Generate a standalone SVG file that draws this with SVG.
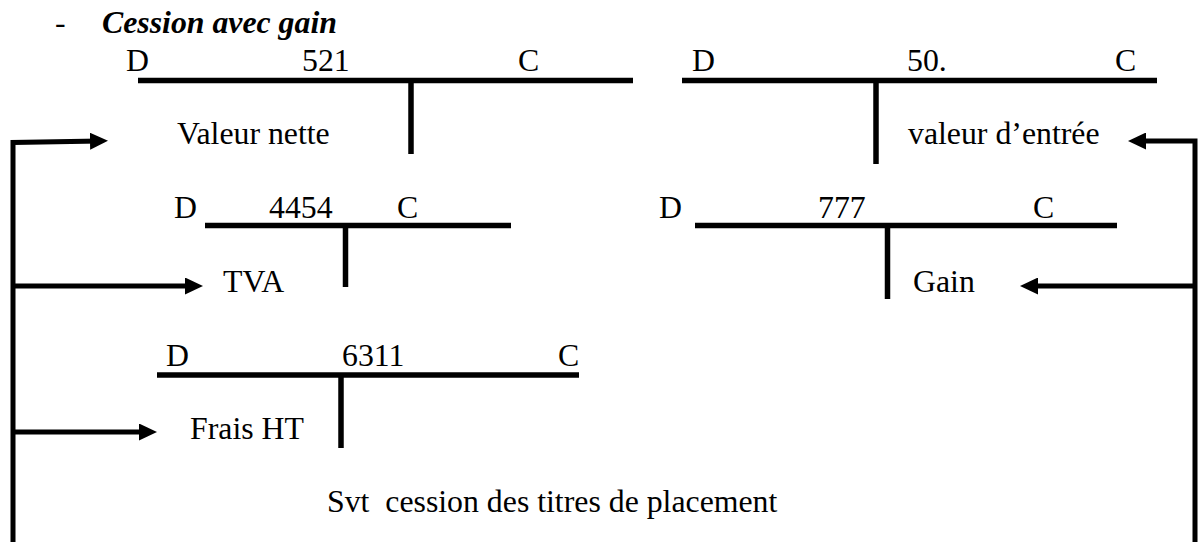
<svg xmlns="http://www.w3.org/2000/svg" width="1198" height="542" viewBox="0 0 1198 542">
<style>
text{font-size:31.8px;fill:#000;white-space:pre}
.title{font-weight:bold;font-style:italic}
.t{stroke:#000;stroke-width:5.5;fill:none}
.c{stroke:#000;stroke-width:5;fill:none;stroke-linejoin:miter}
</style>
<defs>
<marker id="ah" markerUnits="userSpaceOnUse" markerWidth="18" markerHeight="17" refX="10" refY="8.5" orient="auto">
<path d="M0,0 L18,8.5 L0,17 z" fill="#000"/>
</marker>
</defs>
<rect width="1198" height="542" fill="#fff"/>
<g font-family="Liberation Serif, Times New Roman, Times, DejaVu Serif, serif">
<g id="title">
<text x="55" y="33">-</text>
<text class="title" x="102" y="33">Cession avec gain</text>
</g>
<g id="acc521">
<text x="126" y="71">D</text>
<text x="302" y="71">521</text>
<text x="518" y="71">C</text>
<line class="t" x1="138" y1="80.5" x2="633" y2="80.5"/>
<line class="t" x1="411" y1="80.5" x2="411" y2="154"/>
<text x="177" y="144">Valeur nette</text>
</g>
<g id="acc50">
<text x="692" y="71">D</text>
<text x="907" y="71">50.</text>
<text x="1115" y="71">C</text>
<line class="t" x1="682" y1="80.5" x2="1157" y2="80.5"/>
<line class="t" x1="876" y1="80.5" x2="876" y2="164"/>
<text x="908" y="144">valeur d’entrée</text>
</g>
<g id="acc4454">
<text x="174" y="218">D</text>
<text x="269" y="218">4454</text>
<text x="397" y="218">C</text>
<line class="t" x1="205" y1="225.5" x2="511" y2="225.5"/>
<line class="t" x1="345.5" y1="225.5" x2="345.5" y2="287"/>
<text x="223" y="292">TVA</text>
</g>
<g id="acc777">
<text x="659" y="218">D</text>
<text x="818" y="218">777</text>
<text x="1033" y="218">C</text>
<line class="t" x1="695" y1="225.5" x2="1117" y2="225.5"/>
<line class="t" x1="887.5" y1="225.5" x2="887.5" y2="299"/>
<text x="913" y="292">Gain</text>
</g>
<g id="acc6311">
<text x="166" y="366">D</text>
<text x="342" y="366">6311</text>
<text x="558" y="366">C</text>
<line class="t" x1="157" y1="375" x2="579" y2="375"/>
<line class="t" x1="341" y1="375" x2="341" y2="448"/>
<text x="190" y="439">Frais HT</text>
</g>
<g id="caption">
<text x="327" y="512">Svt  cession des titres de placement</text>
</g>
</g>
<g id="connectors">
<path class="c" d="M13,545 V142.5 L100,141" marker-end="url(#ah)"/>
<path class="c" d="M13,286 H195" marker-end="url(#ah)"/>
<path class="c" d="M13,432 H149" marker-end="url(#ah)"/>
<path class="c" d="M1195,545 V141 H1136" marker-end="url(#ah)"/>
<path class="c" d="M1195,286 H1028" marker-end="url(#ah)"/>
</g>
</svg>
